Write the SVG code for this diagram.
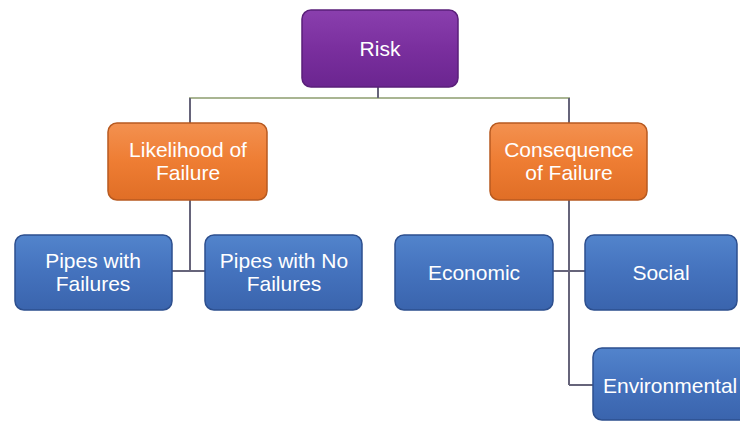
<svg xmlns="http://www.w3.org/2000/svg" width="740" height="423" viewBox="0 0 740 423">
<defs>
<linearGradient id="gp" x1="0" y1="0" x2="0" y2="1"><stop offset="0" stop-color="#8a3fae"/><stop offset="0.5" stop-color="#7a2f9e"/><stop offset="1" stop-color="#6b2590"/></linearGradient>
<linearGradient id="go" x1="0" y1="0" x2="0" y2="1"><stop offset="0" stop-color="#f39150"/><stop offset="0.5" stop-color="#ee7d33"/><stop offset="1" stop-color="#e06e26"/></linearGradient>
<linearGradient id="gb" x1="0" y1="0" x2="0" y2="1"><stop offset="0" stop-color="#5284cc"/><stop offset="0.5" stop-color="#4472bd"/><stop offset="1" stop-color="#3a64ad"/></linearGradient>
</defs>
<style>
.t{font-family:"Liberation Sans",Arial,sans-serif;font-size:21px;fill:#ffffff;text-anchor:middle}
.p{fill:url(#gp);stroke:#5a1f7a;stroke-width:1.5}
.o{fill:url(#go);stroke:#b85a20;stroke-width:1.5}
.b{fill:url(#gb);stroke:#2d4f8e;stroke-width:1.5}
.c{fill:none;stroke:#66647a;stroke-width:2}
.g{fill:none;stroke:#a9b592;stroke-width:2}
</style>
<rect width="740" height="423" fill="#ffffff"/>
<g id="connectors">
<line class="g" x1="189" y1="98" x2="570" y2="98"/>
<line class="c" x1="378" y1="87" x2="378" y2="98"/>
<line class="c" x1="190" y1="98" x2="190" y2="123"/>
<line class="c" x1="569" y1="98" x2="569" y2="123"/>
<line class="c" x1="190" y1="200" x2="190" y2="271"/>
<line class="c" x1="172" y1="271" x2="205" y2="271"/>
<line class="c" x1="569" y1="200" x2="569" y2="385"/>
<line class="c" x1="553" y1="271" x2="585" y2="271"/>
<line class="c" x1="569" y1="385" x2="593" y2="385"/>
</g>
<g id="risk"><rect class="p" x="302" y="10" width="156" height="77" rx="9"/><text class="t" x="380" y="56">Risk</text></g>
<g id="likelihood"><rect class="o" x="108" y="123" width="159" height="77" rx="9"/><text class="t" x="188" y="157">Likelihood of</text><text class="t" x="188" y="180">Failure</text></g>
<g id="consequence"><rect class="o" x="490" y="123" width="157" height="77" rx="9"/><text class="t" x="569" y="157">Consequence</text><text class="t" x="569" y="180">of Failure</text></g>
<g id="pipes-with"><rect class="b" x="15" y="235" width="157" height="75" rx="9"/><text class="t" x="93" y="268">Pipes with</text><text class="t" x="93" y="291">Failures</text></g>
<g id="pipes-no"><rect class="b" x="205" y="235" width="157" height="75" rx="9"/><text class="t" x="284" y="268">Pipes with No</text><text class="t" x="284" y="291">Failures</text></g>
<g id="economic"><rect class="b" x="395" y="235" width="158" height="75" rx="9"/><text class="t" x="474" y="280">Economic</text></g>
<g id="social"><rect class="b" x="585" y="235" width="152" height="75" rx="9"/><text class="t" x="661" y="280">Social</text></g>
<g id="environmental"><rect class="b" x="593" y="348" width="160" height="72" rx="9"/><text class="t" x="603" y="393" style="text-anchor:start">Environmental</text></g>
</svg>
